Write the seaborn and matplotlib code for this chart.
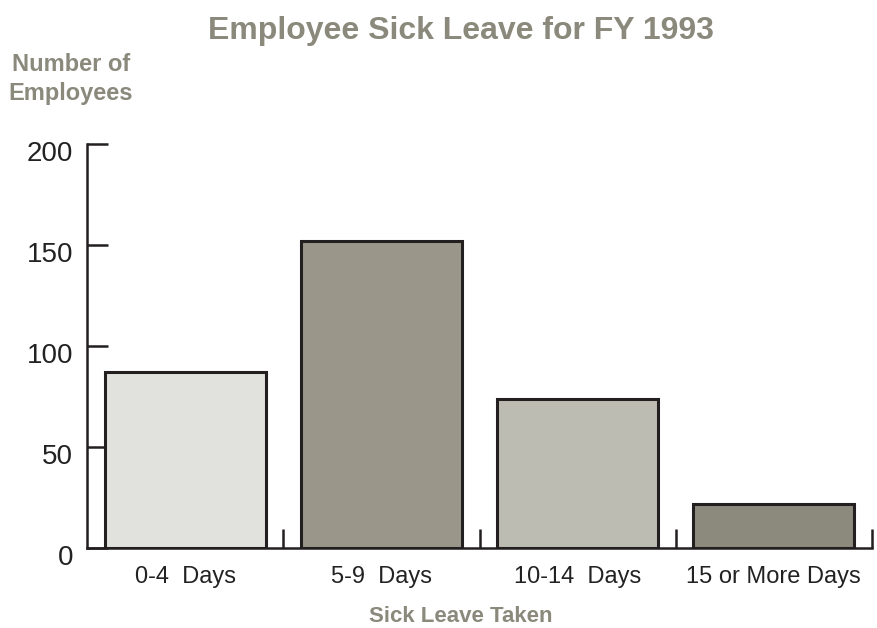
import matplotlib
matplotlib.use("Agg")
import matplotlib.pyplot as plt
import matplotlib.transforms as mtransforms
import pandas as pd
import seaborn as sns

categories = ["0-4  Days", "5-9  Days", "10-14  Days", "15 or More Days"]
employees = [87, 152, 74, 22]
bar_colors = ["#e1e1dd", "#9a978a", "#bdbcb3", "#8c8a7c"]
y_ticks = [0, 50, 100, 150, 200]

df = pd.DataFrame({"Leave": categories, "Employees": employees})

sns.set_theme(style="white")
plt.rcParams["font.family"] = ["Liberation Sans", "DejaVu Sans"]

grey = "#8a897c"
ink = "#231f20"

fig = plt.figure(figsize=(8.77, 6.28), dpi=100)
ax = fig.add_axes([87 / 877, 80 / 628, 785 / 877, 404 / 628])

sns.barplot(data=df, x="Leave", y="Employees", hue="Leave",
            palette=bar_colors, width=0.82, edgecolor=ink, linewidth=2.2,
            saturation=1, legend=False, ax=ax)

ax.set_xlim(-0.5, 3.5)
ax.set_ylim(0, 200)
ax.set_yticks(y_ticks)
ax.set_xlabel("")
ax.set_ylabel("")

sns.despine(ax=ax)
for side in ["left", "bottom"]:
    ax.spines[side].set_color(ink)
    ax.spines[side].set_linewidth(1.8)

ax.tick_params(axis="y", direction="in", length=15, width=1.8, color=ink,
               labelsize=20, labelcolor="#222222", pad=10, left=True)
ax.tick_params(axis="x", which="major", length=0, labelsize=17,
               labelcolor="#222222", pad=13)
ax.set_xticks([0.5, 1.5, 2.5, 3.5], minor=True)
ax.tick_params(axis="x", which="minor", direction="in", length=14,
               width=1.8, color=ink, bottom=True)

# tick labels sit a little below their ticks in the original
shift = mtransforms.ScaledTranslation(0, -7 / 100, fig.dpi_scale_trans)
for lab in ax.get_yticklabels():
    lab.set_transform(lab.get_transform() + shift)

fig.text(461 / 877, 1 - 31 / 628, "Employee Sick Leave for FY 1993",
         ha="center", va="center", fontsize=23, fontweight="bold", color=grey)
fig.text(71 / 877, 1 - 79 / 628, "Number of\nEmployees", ha="center",
         va="center", fontsize=17, fontweight="bold", color=grey,
         linespacing=1.35)
fig.text(461 / 877, 1 - 617 / 628, "Sick Leave Taken", ha="center",
         va="center", fontsize=16, fontweight="bold", color=grey)

fig.savefig("out.png", dpi=100)
